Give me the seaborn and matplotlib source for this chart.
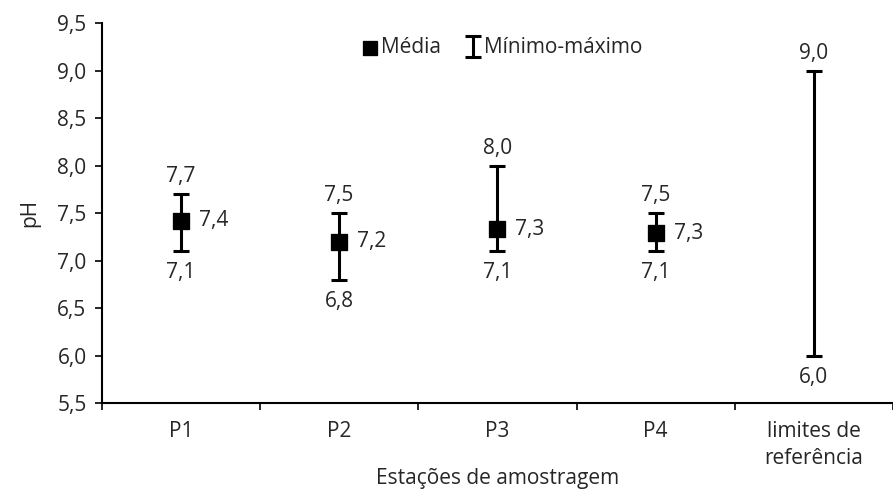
import numpy as np
import matplotlib
matplotlib.use("Agg")
import matplotlib.pyplot as plt
import seaborn as sns
import pandas as pd

# data
categories = ["P1", "P2", "P3", "P4", "limites de\nreferência"]
media = [7.42, 7.2, 7.33, 7.29, np.nan]
minimo = [7.1, 6.8, 7.1, 7.1, 6.0]
maximo = [7.7, 7.5, 8.0, 7.5, 9.0]
y_ticks = [5.5, 6.0, 6.5, 7.0, 7.5, 8.0, 8.5, 9.0, 9.5]


def virgula(v):
    return f"{v:.1f}".replace(".", ",")


sns.set_style("ticks")
plt.rcParams["font.family"] = ["Open Sans", "DejaVu Sans"]
plt.rcParams["font.size"] = 15

pos = np.arange(len(categories))
df = pd.DataFrame({"pos": pos, "media": media, "min": minimo, "max": maximo})

fig = plt.figure(figsize=(8.93, 4.94), dpi=100)
ax = fig.add_axes([0.114, 0.184, 0.886, 0.769])

# min-max bars
centro = (df["min"] + df["max"]) / 2
ax.errorbar(df["pos"], centro, yerr=[centro - df["min"], df["max"] - centro],
            fmt="none", ecolor="black", elinewidth=2.2, capsize=5.5, capthick=2.2,
            label="Mínimo-máximo", zorder=2)

# means
sns.scatterplot(data=df.dropna(), x="pos", y="media", marker="s", s=140,
                color="black", edgecolor="black", label="Média", ax=ax, zorder=3)

# value labels
for i, row in df.iterrows():
    ax.annotate(virgula(row["max"]), (row["pos"], row["max"]), xytext=(0, 5),
                textcoords="offset points", ha="center", va="bottom")
    ax.annotate(virgula(row["min"]), (row["pos"], row["min"]), xytext=(0, -8),
                textcoords="offset points", ha="center", va="top")
    if not np.isnan(row["media"]):
        ax.annotate(virgula(row["media"]), (row["pos"], row["media"]), xytext=(13, 0),
                    textcoords="offset points", ha="left", va="center")

ax.set_xlim(-0.5, len(categories) - 0.5)
ax.set_ylim(5.5, 9.5)
ax.set_yticks(y_ticks)
ax.set_yticklabels([virgula(v) for v in y_ticks])

# tick marks between categories, labels centred under them
ax.set_xticks(np.arange(-0.5, len(categories)), labels=[""] * (len(categories) + 1))
ax.set_xticks(pos, labels=categories, minor=True)
for t in ax.get_xticklabels(minor=True):
    t.set_linespacing(1.35)
ax.tick_params(axis="x", which="minor", length=0, pad=13)
ax.tick_params(axis="both", which="major", length=5, width=1.2, color="black")
ax.tick_params(axis="y", pad=6)

for s in ["left", "bottom"]:
    ax.spines[s].set_linewidth(1.5)
    ax.spines[s].set_color("black")
sns.despine(ax=ax)

ax.set_xlabel("Estações de amostragem")
ax.xaxis.set_label_coords(0.5, -0.172)
ax.set_ylabel("pH", labelpad=12)

h, l = ax.get_legend_handles_labels()
order = [l.index("Média"), l.index("Mínimo-máximo")]
ax.legend([h[i] for i in order], [l[i] for i in order], ncol=2, frameon=False,
          loc="center", bbox_to_anchor=(0.507, 0.935), handlelength=0.6,
          handletextpad=0.25, columnspacing=1.2, markerscale=0.9)

plt.savefig("out.png", dpi=100)
plt.close()
